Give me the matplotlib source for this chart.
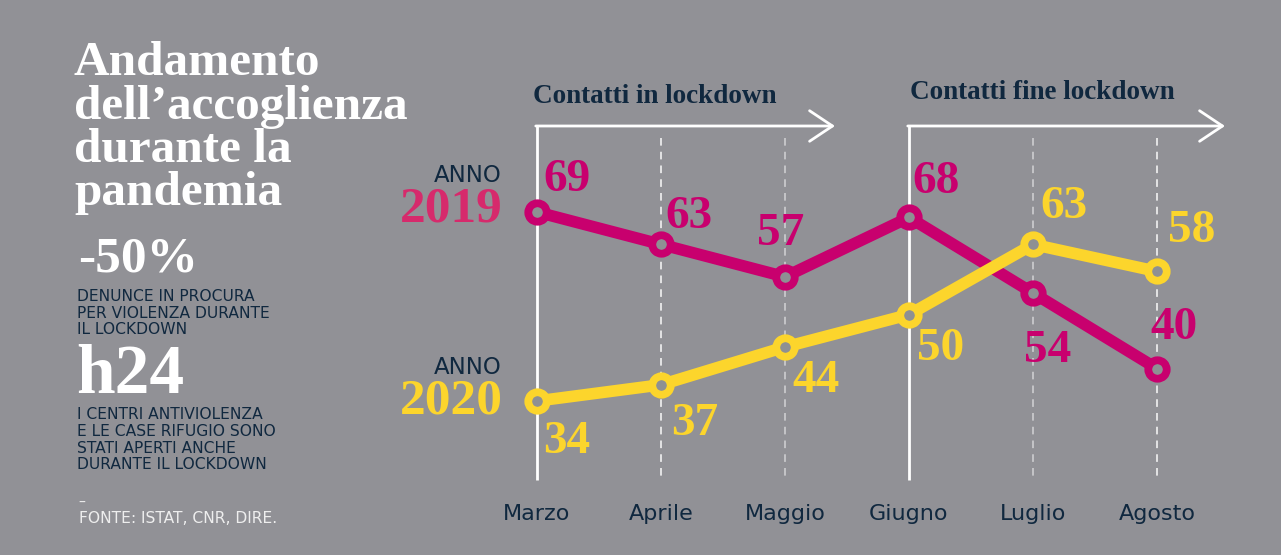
import matplotlib
matplotlib.use("Agg")
import matplotlib.pyplot as plt

# ---------------- data ----------------
months = ["Marzo", "Aprile", "Maggio", "Giugno", "Luglio", "Agosto"]
values_2019 = [69, 63, 57, 68, 54, 40]
values_2020 = [34, 37, 44, 50, 63, 58]
series_names = ["2019", "2020"]
phase_labels = ["Contatti in lockdown", "Contatti fine lockdown"]
title_lines = ["Andamento", "dell\u2019accoglienza", "durante la", "pandemia"]
stat1_value = "-50%"
stat1_lines = ["DENUNCE IN PROCURA", "PER VIOLENZA DURANTE", "IL LOCKDOWN"]
stat2_value = "h24"
stat2_lines = ["I CENTRI ANTIVIOLENZA", "E LE CASE RIFUGIO SONO",
               "STATI APERTI ANCHE", "DURANTE IL LOCKDOWN"]
source = "FONTE: ISTAT, CNR, DIRE."

# ---------------- styling ----------------
W, H = 1281, 555
BG = "#919196"
MAGENTA = "#c8006e"
MAGENTA_TXT = "#d62a6c"
YELLOW = "#fcd52c"
NAVY = "#10283f"
DOT = "#8e9093"
SERIF = "Liberation Serif"
SANS = "DejaVu Sans"

# label offsets in pixels (dx right, dy down) relative to the point
off_2019 = [(6, -32), (4, -27), (-28, -43), (3, -35), (-9, 58), (-7, -41)]
off_2020 = [(6, 41), (10, 39), (7, 34), (8, 34), (7, -37), (11, -40)]

fig = plt.figure(figsize=(W / 100, H / 100), dpi=100, facecolor=BG)
ax = fig.add_axes([0, 0, 1, 1])
ax.set_facecolor(BG)
ax.axis("off")

# pixel mapping: x index 0 -> 537 px, step 124 px ; value 69 -> 212 px, 5.4 px/unit
x0, dx = 537, 124
ax.set_xlim(-x0 / dx, (W - x0) / dx)
ax.set_ylim(69 - (H - 212) / 5.4, 69 + 212 / 5.4)


def fx(px):
    return px / W


def fy(py):
    return 1 - py / H


xs = list(range(len(months)))

# vertical guides
for i in xs:
    if i in (0, 3):
        ax.plot([i, i], [fy(126), fy(480)], transform=ax.get_xaxis_transform(),
                color="white", lw=2.0, solid_capstyle="butt", zorder=1)
    else:
        a = 0.95 if i in (1, 5) else 0.6
        ax.plot([i, i], [fy(138), fy(480)], transform=ax.get_xaxis_transform(),
                color="white", lw=1.1, ls=(0, (5, 4)), alpha=a, zorder=1)

# arrows
arrow_spans = [(0, (835 - x0) / dx), (3, (1225 - x0) / dx)]
for (a0, a1) in arrow_spans:
    ax.annotate("", xy=(a1, fy(126)), xytext=(a0 - 0.01, fy(126)),
                xycoords=ax.get_xaxis_transform(), textcoords=ax.get_xaxis_transform(),
                arrowprops=dict(arrowstyle="->,head_length=0.75,head_width=0.5",
                                color="white", lw=2.0, mutation_scale=22,
                                shrinkA=0, shrinkB=0), zorder=2)

phase_pos = [(533, 103), (910, 99)]
for lbl, (px, py) in zip(phase_labels, phase_pos):
    fig.text(fx(px), fy(py), lbl, family=SERIF, weight="bold", fontsize=19.5,
             color=NAVY, ha="left", va="baseline")

# lines
for vals, col, z in ((values_2019, MAGENTA, 3), (values_2020, YELLOW, 4)):
    ax.plot(xs, vals, color=col, lw=8.4, marker="o", ms=13.3, mew=5.6,
            mec=col, mfc=DOT, solid_joinstyle="round", zorder=z)

# value labels
for vals, offs, col in ((values_2019, off_2019, MAGENTA), (values_2020, off_2020, YELLOW)):
    for i, (v, (ox, oy)) in enumerate(zip(vals, offs)):
        ax.annotate(str(v), (i, v), xytext=(ox * 0.72, -oy * 0.72),
                    textcoords="offset points", ha="left", va="center",
                    family=SERIF, weight="bold", fontsize=34, color=col, zorder=5)

# series labels
for name, col, ya, yn in ((series_names[0], MAGENTA_TXT, 175, 210),
                          (series_names[1], YELLOW, 368, 402)):
    fig.text(fx(502), fy(ya), "ANNO", family=SANS, fontsize=16.5, color=NAVY,
             ha="right", va="center")
    fig.text(fx(503), fy(yn), name, family=SERIF, weight="bold", fontsize=37,
             color=col, ha="right", va="center")

# month labels
for i, m in enumerate(months):
    ax.text(i, fy(514), m, transform=ax.get_xaxis_transform(), family=SANS,
            fontsize=16, color=NAVY, ha="center", va="center")

# title block
for line, base in zip(title_lines, [75, 119, 162, 205]):
    fig.text(fx(74), fy(base), line, family=SERIF, weight="bold", fontsize=35.5,
             color="white", ha="left", va="baseline")

fig.text(fx(78), fy(271), stat1_value, family=SERIF, weight="bold", fontsize=37,
         color="white", ha="left", va="baseline")
for line, base in zip(stat1_lines, [301, 318, 334]):
    fig.text(fx(77), fy(base), line, family=SANS, fontsize=11.2, color=NAVY,
             ha="left", va="baseline")

fig.text(fx(76), fy(393), stat2_value, family=SERIF, weight="bold", fontsize=50,
         color="white", ha="left", va="baseline")
for line, base in zip(stat2_lines, [419, 436, 453, 469]):
    fig.text(fx(77), fy(base), line, family=SANS, fontsize=11.2, color=NAVY,
             ha="left", va="baseline")

fig.text(fx(78), fy(503), "\u2013", family=SANS, fontsize=10, color="#eeeeee",
         ha="left", va="center")
fig.text(fx(79), fy(523), source, family=SANS, fontsize=11.2, color="#eeeeee",
         ha="left", va="baseline")

fig.savefig("out.png", dpi=100, facecolor=BG)
